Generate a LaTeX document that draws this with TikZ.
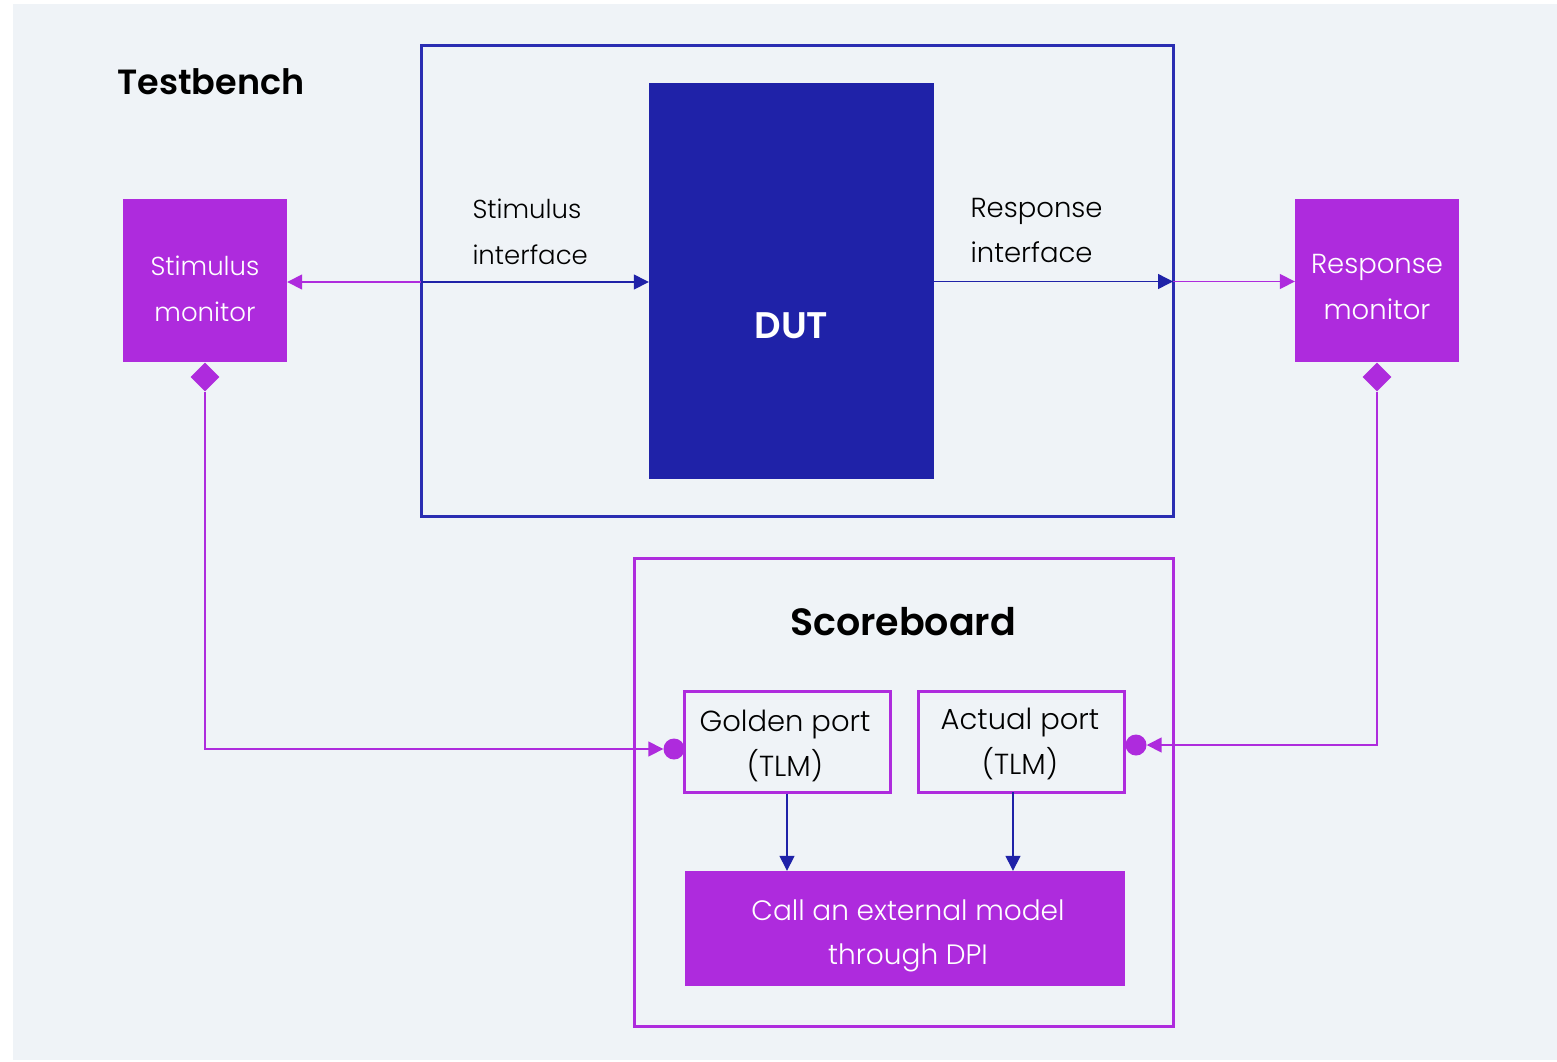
\documentclass[tikz,border=0pt]{standalone}
\usepackage{fontspec}
\setmainfont{Poppins}[UprightFont=* Light, BoldFont=* SemiBold]
\usetikzlibrary{arrows.meta,shapes.geometric}
\definecolor{bg}{HTML}{EFF3F7}
\definecolor{violet}{HTML}{AE2BDD}
\definecolor{navy}{HTML}{1F22A8}
\definecolor{frame}{HTML}{2A2DB2}
\tikzset{
  txt/.style={font=\fontsize{26}{46}\selectfont, align=center},
  monbox/.style={fill=violet, minimum width=164, minimum height=163, inner sep=0},
  montext/.style={text=white, txt},
  portbox/.style={draw=violet, line width=3, fill=bg, minimum width=206, minimum height=101, inner sep=0},
  porttext/.style={font=\fontsize{29}{45}\selectfont, align=center},
  knob/.style={diamond, fill=violet, minimum width=29, minimum height=29, inner sep=0},
  dot/.style={circle, fill=violet, minimum size=21, inner sep=0},
  vline/.style={draw=violet, line width=1.6, -{Triangle[length=15,width=15]}},
  bline/.style={draw=navy, line width=1.4, -{Triangle[length=15,width=15]}},
  title/.style={font=\fontsize{35}{40}\selectfont\bfseries},
}
\begin{document}
\begin{tikzpicture}[x=1pt, y=-1pt]
\useasboundingbox (0,0) rectangle (1557,1061);
\fill[bg] (13,4) rectangle (1557,1060);

% testbench frame and device under test
\node[draw=frame, line width=3, minimum width=752, minimum height=471, inner sep=0] (tb) at (797,280.5) {};
\node[anchor=west, title] (tbl) at (114,82) {Testbench};
\node[fill=navy, minimum width=285, minimum height=396, inner sep=0] (dut) at (791.5,281) {};
\node[text=white, font=\fontsize{37}{40}\selectfont\bfseries] (dutl) at (791.5,326) {DUT};

\node[anchor=west, txt, align=left] (sil) at (469,232) {Stimulus\\interface};
\node[anchor=west, txt, align=left, font=\fontsize{27.5}{45}\selectfont] (ril) at (967,230.5) {Response\\interface};

% monitors
\node[monbox] (smon) at (205,280.5) {};
\node[monbox] (rmon) at (1377,280.5) {};
\node[montext] (smonl) at (205,288.5) {Stimulus\\monitor};
\node[montext, font=\fontsize{27.5}{46}\selectfont] (rmonl) at (1377,287) {Response\\monitor};
\node[knob] (sdia) at (205,377) {};
\node[knob] (rdia) at (1377,377) {};

% interface taps
\coordinate (stap) at (421,282);
\coordinate (rtap) at (1173,281.5);
\draw[bline] (stap) -- (dut.west |- stap);
\draw[vline] (stap) -- (smon.east |- stap);
\draw[bline] (dut.east |- rtap) -- (rtap);
\draw[vline] (rtap) -- (rmon.west |- rtap);

% scoreboard
\node[draw=violet, line width=3, minimum width=539, minimum height=468, inner sep=0] (sb) at (903.5,792) {};
\node[title, font=\fontsize{38}{42}\selectfont\bfseries] (sbl) at (903,622) {Scoreboard};
\node[portbox] (gold) at (787,741.5) {};
\node[portbox] (act) at (1021,741.5) {};
\node[porttext] (goldl) at (785,746) {Golden port\\(TLM)};
\node[porttext] (actl) at (1020,744) {Actual port\\(TLM)};
\node[fill=violet, minimum width=440, minimum height=115, inner sep=0] (call) at (905,928.5) {};
\node[text=white, font=\fontsize{28}{44}\selectfont, align=center] (calll) at (908,935.5) {Call an external model\\through DPI};

\node[dot] (gdot) at (674,749) {};
\node[dot] (adot) at (1136,745) {};

\draw[vline] (sdia.south) |- (gdot.west);
\draw[vline] (rdia.south) |- (adot.east);

\draw[bline] (gold.south) -- (call.north -| gold.south);
\coordinate (aout) at (1013,792);
\draw[bline] (aout) -- (call.north -| aout);
\end{tikzpicture}
\end{document}
